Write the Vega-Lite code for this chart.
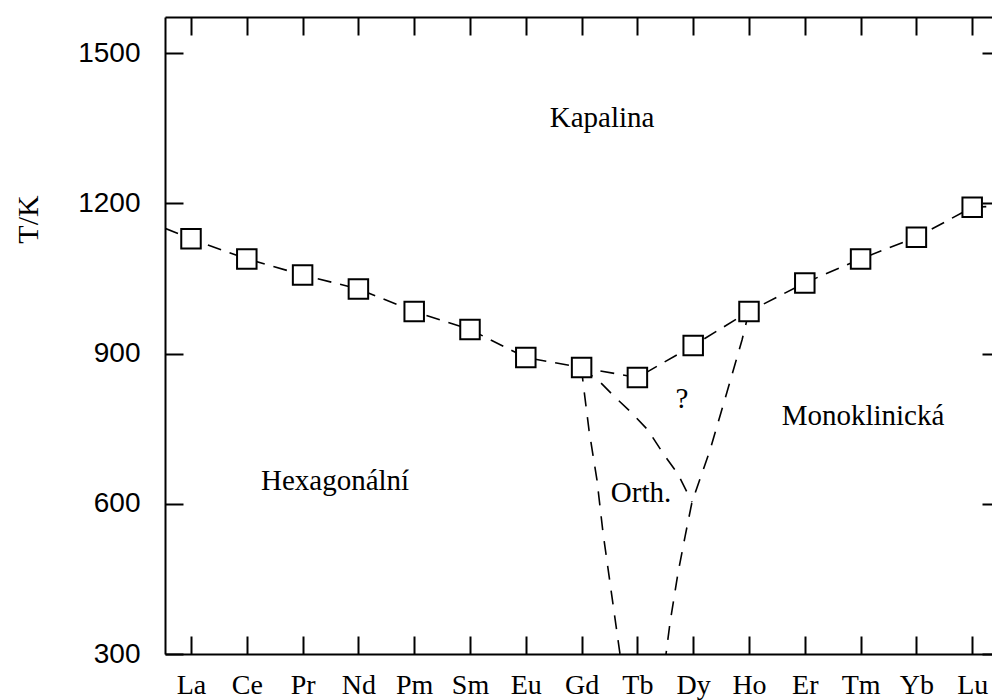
{
  "$schema": "https://vega.github.io/schema/vega-lite/v6.json",
  "autosize": {"type": "none"},
  "padding": {"left": 165, "top": 17, "right": 0, "bottom": 46},
  "width": 827,
  "height": 637,
  "background": "white",
  "config": {
    "view": {"stroke": null},
    "axis": {
      "domainColor": "#000",
      "domainWidth": 2,
      "tickColor": "#000",
      "tickWidth": 2,
      "tickSize": -18,
      "grid": false,
      "labelColor": "#000",
      "labelOverlap": false,
      "labelFlush": false,
      "labelBound": false
    }
  },
  "datasets": {
    "elements": [
      {"el": "La", "i": 0, "T": 1129},
      {"el": "Ce", "i": 1, "T": 1089},
      {"el": "Pr", "i": 2, "T": 1057},
      {"el": "Nd", "i": 3, "T": 1029},
      {"el": "Pm", "i": 4, "T": 984},
      {"el": "Sm", "i": 5, "T": 948},
      {"el": "Eu", "i": 6, "T": 892},
      {"el": "Gd", "i": 7, "T": 872},
      {"el": "Tb", "i": 8, "T": 852},
      {"el": "Dy", "i": 9, "T": 916},
      {"el": "Ho", "i": 10, "T": 984},
      {"el": "Er", "i": 11, "T": 1041},
      {"el": "Tm", "i": 12, "T": 1089},
      {"el": "Yb", "i": 13, "T": 1132},
      {"el": "Lu", "i": 14, "T": 1192}
    ],
    "liquidus": [
      {"i": -0.466, "T": 1150},
      {"i": 0, "T": 1129},
      {"i": 1, "T": 1089},
      {"i": 2, "T": 1057},
      {"i": 3, "T": 1029},
      {"i": 4, "T": 984},
      {"i": 5, "T": 948},
      {"i": 6, "T": 892},
      {"i": 7, "T": 872},
      {"i": 8, "T": 852},
      {"i": 9, "T": 916},
      {"i": 10, "T": 984},
      {"i": 11, "T": 1041},
      {"i": 12, "T": 1089},
      {"i": 13, "T": 1132},
      {"i": 14, "T": 1192},
      {"i": 14.355, "T": 1194}
    ],
    "boundaries": [
      {"curve": "hex-orth", "o": 0, "i": 7.0, "T": 872},
      {"curve": "hex-orth", "o": 1, "i": 7.025, "T": 843},
      {"curve": "hex-orth", "o": 2, "i": 7.133, "T": 747},
      {"curve": "hex-orth", "o": 3, "i": 7.276, "T": 647},
      {"curve": "hex-orth", "o": 4, "i": 7.384, "T": 542},
      {"curve": "hex-orth", "o": 5, "i": 7.527, "T": 428},
      {"curve": "hex-orth", "o": 6, "i": 7.688, "T": 300},
      {"curve": "orth-top", "o": 0, "i": 7.0, "T": 872},
      {"curve": "orth-top", "o": 1, "i": 7.348, "T": 841},
      {"curve": "orth-top", "o": 2, "i": 7.616, "T": 811},
      {"curve": "orth-top", "o": 3, "i": 7.885, "T": 783},
      {"curve": "orth-top", "o": 4, "i": 8.19, "T": 747},
      {"curve": "orth-top", "o": 5, "i": 8.459, "T": 701},
      {"curve": "orth-top", "o": 6, "i": 8.728, "T": 659},
      {"curve": "orth-top", "o": 7, "i": 8.978, "T": 603},
      {"curve": "mono", "o": 0, "i": 10.0, "T": 984},
      {"curve": "mono", "o": 1, "i": 9.875, "T": 927},
      {"curve": "mono", "o": 2, "i": 9.606, "T": 823},
      {"curve": "mono", "o": 3, "i": 9.301, "T": 707},
      {"curve": "mono", "o": 4, "i": 8.978, "T": 603},
      {"curve": "mono", "o": 5, "i": 8.853, "T": 534},
      {"curve": "mono", "o": 6, "i": 8.728, "T": 462},
      {"curve": "mono", "o": 7, "i": 8.584, "T": 362},
      {"curve": "mono", "o": 8, "i": 8.513, "T": 300}
    ],
    "labels": [
      {"text": "Kapalina", "i": 7.366, "T": 1352},
      {"text": "Hexagonální", "i": 2.581, "T": 627},
      {"text": "Monoklinická", "i": 12.043, "T": 757},
      {"text": "Orth.", "i": 8.065, "T": 603},
      {"text": "?", "i": 8.799, "T": 791}
    ]
  },
  "resolve": {"axis": {"x": "independent", "y": "independent"}},
  "layer": [
    {
      "data": {"name": "liquidus"},
      "mark": {"type": "line", "color": "#000", "strokeWidth": 1.6, "strokeDash": [14, 9], "clip": true},
      "encoding": {
        "x": {"field": "i", "type": "quantitative",
              "scale": {"domain": [-0.466, 14.355], "nice": false, "zero": false},
              "axis": {"orient": "top", "values": [0,1,2,3,4,5,6,7,8,9,10,11,12,13,14], "labels": false, "title": null}},
        "y": {"field": "T", "type": "quantitative",
              "scale": {"domain": [300, 1572], "nice": false, "zero": false},
              "axis": {"orient": "right", "values": [300, 600, 900, 1200, 1500], "labels": false, "domain": false, "tickSize": -10, "title": null}}
      }
    },
    {
      "data": {"name": "boundaries"},
      "mark": {"type": "line", "color": "#000", "strokeWidth": 1.6, "strokeDash": [14, 11], "clip": true},
      "encoding": {
        "x": {"field": "i", "type": "quantitative",
              "scale": {"domain": [-0.466, 14.355], "nice": false, "zero": false}, "axis": null},
        "y": {"field": "T", "type": "quantitative",
              "scale": {"domain": [300, 1572], "nice": false, "zero": false}, "axis": null},
        "detail": {"field": "curve"},
        "order": {"field": "o"}
      }
    },
    {
      "data": {"name": "elements"},
      "mark": {"type": "point", "shape": "square", "size": 380, "filled": false, "fill": "white", "fillOpacity": 1, "stroke": "#000", "strokeWidth": 2, "opacity": 1},
      "encoding": {
        "x": {"field": "i", "type": "quantitative",
              "scale": {"domain": [-0.466, 14.355], "nice": false, "zero": false},
              "axis": {"orient": "bottom", "values": [0,1,2,3,4,5,6,7,8,9,10,11,12,13,14],
                       "labelExpr": "['La','Ce','Pr','Nd','Pm','Sm','Eu','Gd','Tb','Dy','Ho','Er','Tm','Yb','Lu'][datum.value]",
                       "labelFont": "Liberation Serif", "labelFontSize": 28, "labelPadding": 57, "labelBaseline": "alphabetic", "title": null}},
        "y": {"field": "T", "type": "quantitative",
              "scale": {"domain": [300, 1572], "nice": false, "zero": false},
              "axis": {"orient": "left", "values": [300, 600, 900, 1200, 1500], "format": "d",
                       "labelFont": "Liberation Sans", "labelFontSize": 28, "labelPadding": 43,
                       "title": "T/K", "titleFont": "Liberation Serif", "titleFontSize": 30, "titleFontWeight": "normal",
                       "titleColor": "#000", "titleAngle": 270, "titleX": -128, "titleY": 202,
                       "titleAlign": "center", "titleBaseline": "alphabetic"}}
      }
    },
    {
      "data": {"name": "labels"},
      "mark": {"type": "text", "font": "Liberation Serif", "fontSize": 29, "color": "#000", "align": "center", "baseline": "alphabetic"},
      "encoding": {
        "x": {"field": "i", "type": "quantitative",
              "scale": {"domain": [-0.466, 14.355], "nice": false, "zero": false}, "axis": null},
        "y": {"field": "T", "type": "quantitative",
              "scale": {"domain": [300, 1572], "nice": false, "zero": false}, "axis": null},
        "text": {"field": "text"}
      }
    }
  ]
}
